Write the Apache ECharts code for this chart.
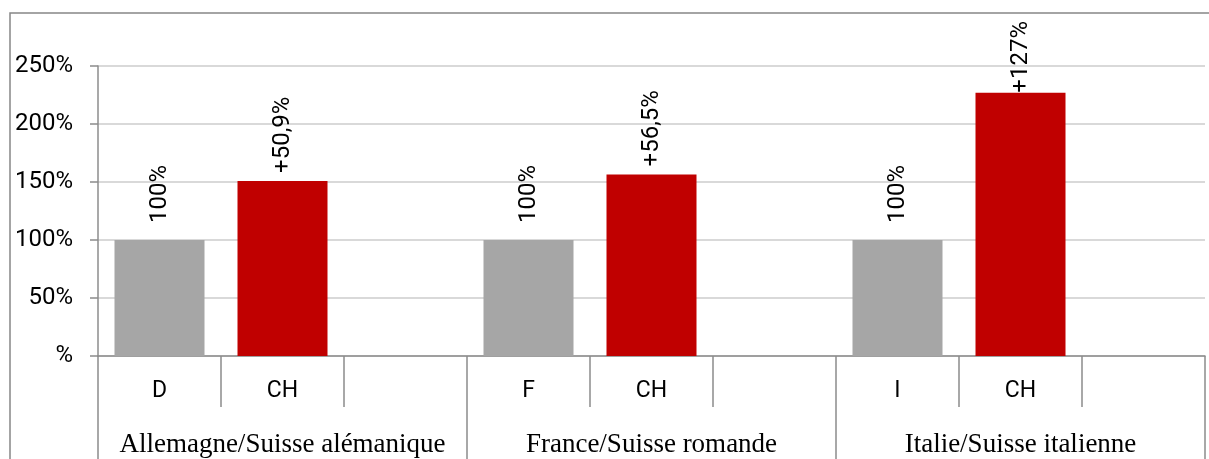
<!DOCTYPE html>
<html><head><meta charset="utf-8">
<script src="https://cdn.jsdelivr.net/npm/echarts@6/dist/echarts.min.js"></script>
<style>html,body{margin:0;padding:0;background:#fff}#c{width:1209px;height:459px}</style>
</head><body><div id="c"></div>
<script>
const categories = ['D', 'CH', '', 'F', 'CH', '', 'I', 'CH', ''];
const groups = ['Allemagne/Suisse alémanique', 'France/Suisse romande', 'Italie/Suisse italienne'];
const values = [100, 150.9, null, 100, 156.5, null, 100, 227, null];
const labels = ['100%', '+50,9%', '', '100%', '+56,5%', '', '100%', '+127%', ''];
const colors = ['#a6a6a6', '#c00000', '#a6a6a6', '#a6a6a6', '#c00000', '#a6a6a6', '#a6a6a6', '#c00000', '#a6a6a6'];
const yTicks = [0, 50, 100, 150, 200, 250];

const chart = echarts.init(document.getElementById('c'), null, {renderer: 'canvas'});
const sans = 'Roboto';
const yMax = yTicks[yTicks.length - 1];
chart.setOption({
  animation: false,
  grid: {left: 98, right: 4, top: 66, bottom: 103},
  graphic: [{
    type: 'polyline', silent: true,
    shape: {points: [[10, 470], [10, 13], [1215, 13]]},
    style: {stroke: '#878787', lineWidth: 1.5, fill: null}
  }],
  xAxis: [{
    type: 'category', data: categories, position: 'bottom',
    axisLine: {show: true, lineStyle: {color: '#8c8c8c', width: 1.5}},
    axisTick: {show: true, length: 51, lineStyle: {color: '#8c8c8c', width: 1.5}},
    axisLabel: {margin: 24, color: '#000', fontFamily: sans, fontSize: 23, interval: 0},
    splitLine: {show: false}
  }, {
    type: 'category', data: groups, position: 'bottom',
    axisLine: {show: false},
    axisTick: {show: true, length: 110, lineStyle: {color: '#8c8c8c', width: 1.5}},
    axisLabel: {margin: 75, color: '#000', fontFamily: 'Liberation Serif', fontSize: 27, interval: 0},
    splitLine: {show: false}
  }],
  yAxis: {
    type: 'value', min: yTicks[0], max: yMax, interval: 50,
    axisLine: {show: true, lineStyle: {color: '#8c8c8c', width: 1.5}},
    axisTick: {show: true, length: 8, lineStyle: {color: '#8c8c8c', width: 1.5}},
    axisLabel: {margin: 25, color: '#000', fontFamily: sans, fontSize: 24,
      formatter: v => v === 0 ? '%' : v + '%'},
    splitLine: {show: true, lineStyle: {color: '#d9d9d9', width: 2}}
  },
  series: [{
    type: 'bar', xAxisIndex: 0, barWidth: 90,
    data: values.map((v, i) => ({value: v, itemStyle: {color: colors[i]},
      label: {formatter: labels[i],
        distance: i % 3 === 0 ? 17 : (v > yMax * 0.8 ? 0 : 8)}})),
    label: {show: true, position: 'top', rotate: 90, align: 'left', verticalAlign: 'middle',
      distance: 17, color: '#000', fontFamily: sans, fontSize: 24}
  }]
});
</script></body></html>
